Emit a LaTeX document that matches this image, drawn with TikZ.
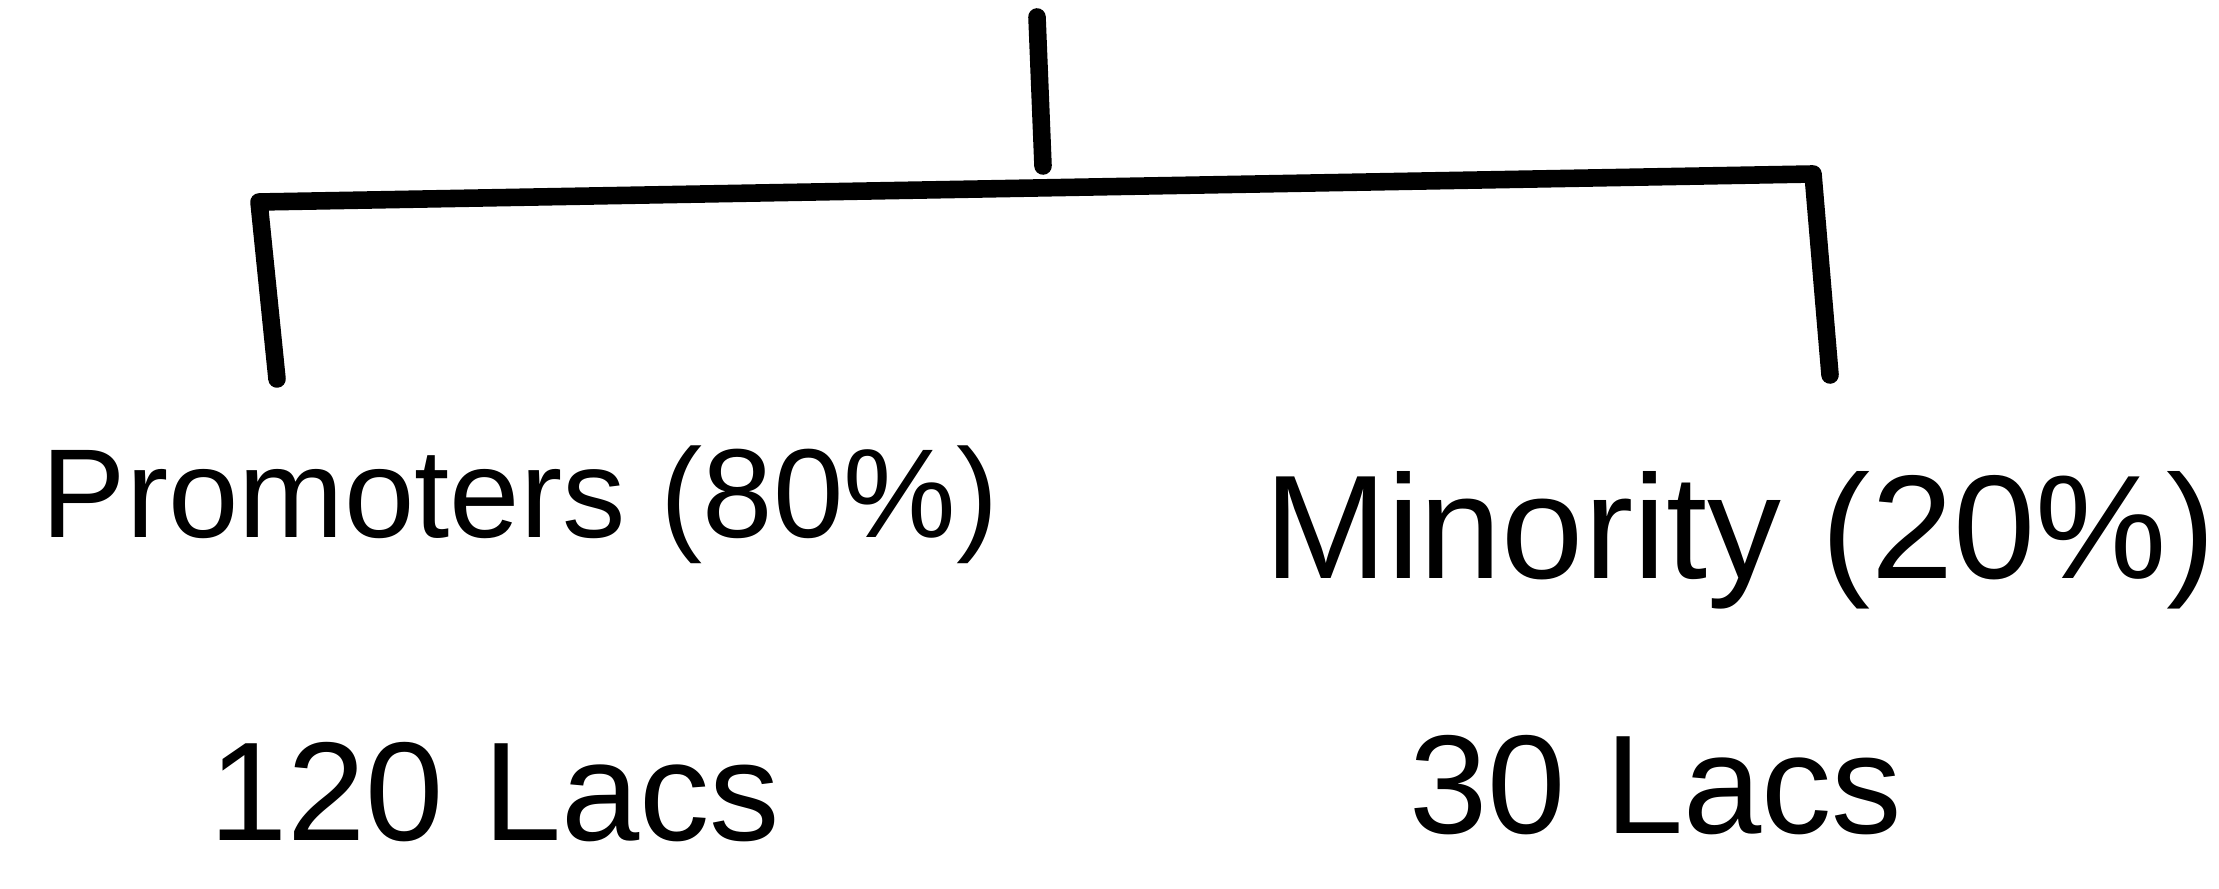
\documentclass[tikz,border=0pt]{standalone}
\usepackage{fontspec}
\setmainfont{Liberation Sans}

\begin{document}
\begin{tikzpicture}[x=0.01cm,y=-0.01cm,
  stroke/.style={line width=5pt,line cap=round,line join=round},
  share/.style={font=\fontsize{38}{44}\selectfont,inner sep=0pt},
  amount/.style={font=\fontsize{40}{44}\selectfont,inner sep=0pt}]
\useasboundingbox (0,0) rectangle (2219,889);
% tree lines
\coordinate (top) at (1037,17);
\coordinate (stem) at (1043,166);
\coordinate (barL) at (259,202);
\coordinate (barR) at (1813,174);
\coordinate (dropL) at (277,379);
\coordinate (dropR) at (1830,375);
\draw[stroke] (top) -- (stem);
\draw[stroke] (dropL) -- (barL) -- (barR) -- (dropR);
% labels
\node[share,font=\fontsize{36}{44}\selectfont] (promoters) at (520,505) {Promoters (80\%)};
\node[amount] (promlacs) at (495,792) {120 Lacs};
\node[share,font=\fontsize{42}{44}\selectfont] (minority) at (1740,540) {Minority (20\%)};
\node[amount] (minlacs) at (1656,785) {30 Lacs};
\end{tikzpicture}
\end{document}
